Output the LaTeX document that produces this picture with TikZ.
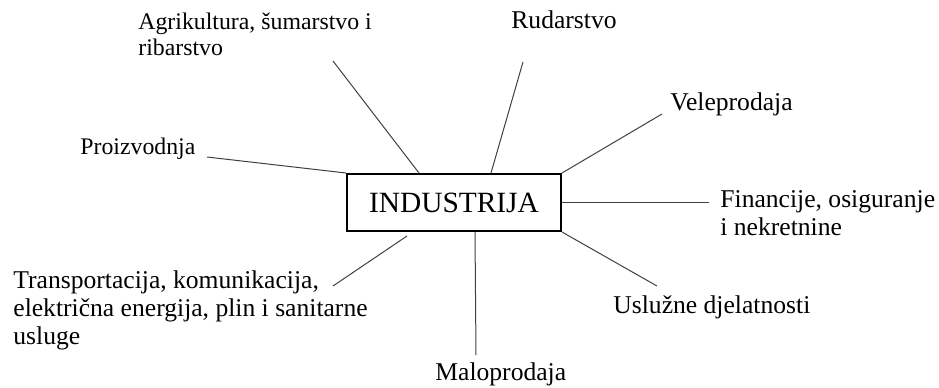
\documentclass[tikz,border=0pt]{standalone}
\usepackage{fontspec}
\setmainfont{Liberation Serif}
\begin{document}
\begin{tikzpicture}[x=0.5pt, y=-0.5pt,
    lbl/.style={anchor=base west, inner sep=0, align=left, font=\fontsize{12.8}{14}\selectfont},
    petit/.style={font=\fontsize{11.9}{13}\selectfont},
    lien/.style={black!75, line width=0.5pt}]

    \useasboundingbox (0,0) rectangle (939,387);

    %cadre
    \node[draw, line width=1pt, minimum width=107pt, minimum height=28.5pt, inner sep=0,
          font=\fontsize{14.7}{17}\selectfont] (industrija) at (454,202.5) {INDUSTRIJA};

    %textes (base = derniere ligne)
    \node[lbl, petit] (agri) at (138,55) {Agrikultura, šumarstvo i\\ribarstvo};
    \node[lbl] (rud) at (511,28) {Rudarstvo};
    \node[lbl, petit] (proiz) at (80,154) {Proizvodnja};
    \node[lbl] (vele) at (670,110) {Veleprodaja};
    \node[lbl] (fin) at (720,235) {Financije, osiguranje\\i nekretnine};
    \node[lbl] (usl) at (613,313) {Uslužne djelatnosti};
    \node[lbl] (malo) at (435,380) {Maloprodaja};
    \node[lbl] (trans) at (13,344) {Transportacija, komunikacija,\\električna energija, plin i sanitarne\\usluge};

    %bouts libres
    \coordinate (agri-b) at (333,61);
    \coordinate (rud-b) at (523,62);
    \coordinate (proiz-b) at (207,157);
    \coordinate (vele-b) at (662,114);
    \coordinate (fin-b) at (709,202.5);
    \coordinate (usl-b) at (657,286);
    \coordinate (malo-b) at (476,355);
    \coordinate (trans-b) at (333,286);

    %liens
    \draw[lien] (agri-b) -- ([xshift=36.5pt]industrija.north west);
    \draw[lien] (rud-b) -- ([xshift=72.5pt]industrija.north west);
    \draw[lien] (proiz-b) -- (industrija.north west);
    \draw[lien] (vele-b) -- (industrija.north east);
    \draw[lien] (fin-b) -- (industrija.east);
    \draw[lien] (usl-b) -- (industrija.south east);
    \draw[lien] (malo-b) -- ([xshift=64.5pt]industrija.south west);
    \draw[lien] (trans-b) -- ([xshift=30.5pt,yshift=-2pt]industrija.south west);
\end{tikzpicture}
\end{document}
